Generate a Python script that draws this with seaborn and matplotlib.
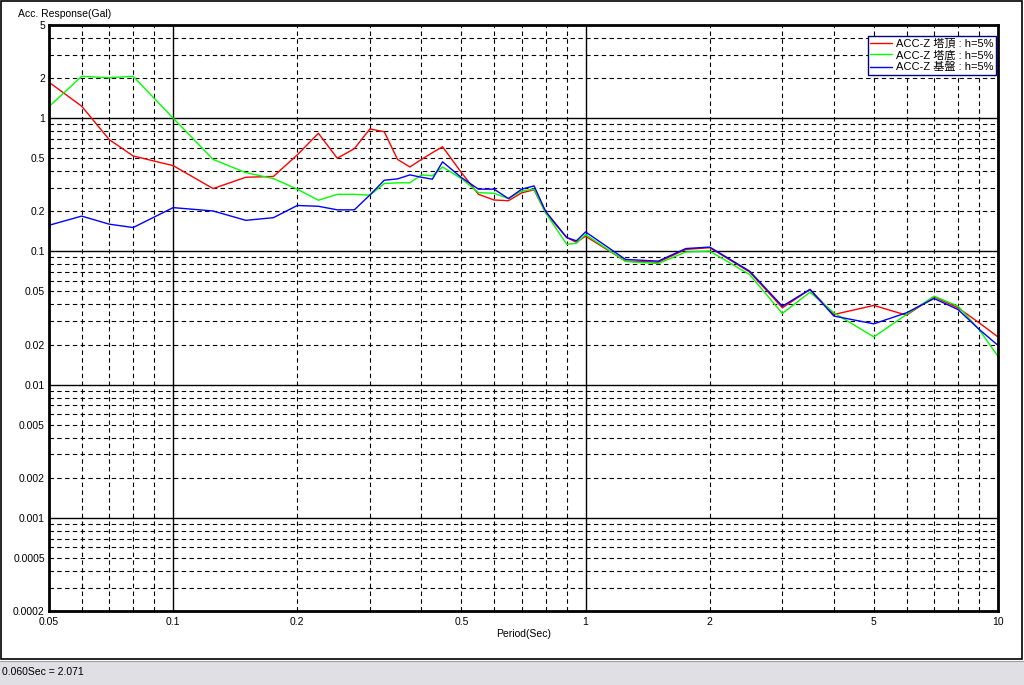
import matplotlib
matplotlib.use("Agg")
import numpy as np
import pandas as pd
import matplotlib.pyplot as plt
import seaborn as sns
from matplotlib.patches import Rectangle
from matplotlib.lines import Line2D


# =========================
# DATA
# =========================
PERIODS = [0.05, 0.06, 0.07, 0.08, 0.1, 0.125, 0.15, 0.175, 0.2, 0.225,
           0.25, 0.275, 0.3, 0.325, 0.35, 0.375, 0.4, 0.425, 0.45, 0.5,
           0.55, 0.6, 0.65, 0.7, 0.75, 0.8, 0.9, 0.95, 1.0, 1.25,
           1.5, 1.75, 2.0, 2.5, 3.0, 3.5, 4.0, 5.0, 6.0, 7.0,
           8.0, 9.0, 10.0]

ACC_TOP = [1.86, 1.23, 0.69, 0.52, 0.44, 0.296, 0.36, 0.365, 0.53, 0.77,
           0.50, 0.59, 0.83, 0.79, 0.49, 0.43, 0.49, 0.55, 0.61, 0.39,
           0.268, 0.243, 0.24, 0.275, 0.29, 0.195, 0.127, 0.117, 0.130, 0.0845,
           0.083, 0.1035, 0.1066, 0.070, 0.0377, 0.0518, 0.0336, 0.0393, 0.0332, 0.0456,
           0.0377, 0.0291, 0.0228]

ACC_BOTTOM = [1.22, 2.06, 2.01, 2.06, 1.0, 0.49, 0.39, 0.352, 0.293, 0.242,
              0.268, 0.268, 0.264, 0.323, 0.327, 0.327, 0.375, 0.369, 0.43, 0.352,
              0.276, 0.273, 0.249, 0.284, 0.293, 0.195, 0.113, 0.115, 0.134, 0.084,
              0.081, 0.099, 0.1005, 0.067, 0.0342, 0.0494, 0.0346, 0.0228, 0.0336, 0.0461,
              0.0388, 0.0259, 0.0163]

ACC_GROUND = [0.157, 0.184, 0.160, 0.151, 0.213, 0.201, 0.171, 0.179, 0.221, 0.218,
              0.205, 0.205, 0.265, 0.342, 0.35, 0.375, 0.36, 0.348, 0.47, 0.358,
              0.293, 0.293, 0.249, 0.293, 0.31, 0.20, 0.127, 0.12, 0.14, 0.087,
              0.0845, 0.105, 0.1077, 0.071, 0.0388, 0.0518, 0.0327, 0.0286, 0.0346, 0.0443,
              0.0366, 0.026, 0.0197]

SERIES_NAMES = ["ACC-Z 塔頂 : h=5%", "ACC-Z 塔底 : h=5%", "ACC-Z 基盤 : h=5%"]
SERIES_COLORS = ["#ff0000", "#00ff00", "#0000ff"]

X_TICKS = [0.05, 0.1, 0.2, 0.5, 1, 2, 5, 10]
X_TICK_LABELS = ["0.05", "0.1", "0.2", "0.5", "1", "2", "5", "10"]
Y_TICKS = [0.0002, 0.0005, 0.001, 0.002, 0.005, 0.01, 0.02, 0.05,
           0.1, 0.2, 0.5, 1, 2, 5]
Y_TICK_LABELS = ["0.0002", "0.0005", "0.001", "0.002", "0.005", "0.01", "0.02",
                 "0.05", "0.1", "0.2", "0.5", "1", "2", "5"]

X_LABEL = "Period(Sec)"
Y_LABEL = "Acc. Response(Gal)"
STATUS_TEXT = "0.060Sec = 2.071"


# =========================
# SETTINGS
# =========================
sns.set_style("white")
FONTS = ["Liberation Sans", "Noto Sans CJK JP", "DejaVu Sans"]
plt.rcParams["font.family"] = FONTS
plt.rcParams["font.size"] = 7.5
plt.rcParams["text.color"] = "black"
plt.rcParams["axes.labelcolor"] = "black"
plt.rcParams["xtick.color"] = "black"
plt.rcParams["ytick.color"] = "black"

W, H = 1024, 685
fig = plt.figure(figsize=(W / 100, H / 100), dpi=100)
fig.patch.set_facecolor("white")

# plot area in pixel coordinates of the reference
L, R, T, B = 49, 998, 25, 611
ax = fig.add_axes([L / W, 1 - B / H, (R - L) / W, (B - T) / H])
ax.set_xscale("log")
ax.set_yscale("log")
ax.set_xlim(0.05, 10)
ax.set_ylim(0.0002, 5)

# =========================
# GRID (solid at decades, dashed elsewhere)
# =========================
dash = (0, (4, 3))
for dec in [0.01, 0.1, 1]:
    for k in range(1, 10):
        v = dec * k
        if v <= 0.05 or v >= 10:
            continue
        if k == 1:
            ax.axvline(v, color="black", lw=1.0, zorder=1)
        else:
            ax.axvline(v, color="black", lw=0.8, ls=dash, zorder=1)
for dec in [0.0001, 0.001, 0.01, 0.1, 1]:
    for k in range(1, 10):
        v = dec * k
        if v <= 0.0002 or v >= 5:
            continue
        if k == 1:
            ax.axhline(v, color="black", lw=1.0, zorder=1)
        else:
            ax.axhline(v, color="black", lw=0.8, ls=dash, zorder=1)

# =========================
# CURVES
# =========================
frames = []
for name, vals in zip(SERIES_NAMES, [ACC_TOP, ACC_BOTTOM, ACC_GROUND]):
    frames.append(pd.DataFrame({"period": PERIODS, "response": vals, "series": name}))
df = pd.concat(frames, ignore_index=True)

sns.lineplot(data=df, x="period", y="response", hue="series",
             palette=SERIES_COLORS, estimator=None, sort=True,
             linewidth=1.0, ax=ax, zorder=3, legend=False)

# =========================
# AXES STYLE
# =========================
for sp in ax.spines.values():
    sp.set_visible(True)
    sp.set_color("black")
    sp.set_linewidth(2.0)
    sp.set_zorder(5)

ax.xaxis.set_major_locator(matplotlib.ticker.FixedLocator(X_TICKS))
ax.xaxis.set_major_formatter(matplotlib.ticker.FixedFormatter(X_TICK_LABELS))
ax.xaxis.set_minor_locator(matplotlib.ticker.NullLocator())
ax.yaxis.set_major_locator(matplotlib.ticker.FixedLocator(Y_TICKS))
ax.yaxis.set_major_formatter(matplotlib.ticker.FixedFormatter(Y_TICK_LABELS))
ax.yaxis.set_minor_locator(matplotlib.ticker.NullLocator())
ax.tick_params(axis="both", which="both", length=0, labelsize=7.5,
               colors="black", labelcolor="black")
ax.tick_params(axis="x", pad=4)
ax.tick_params(axis="y", pad=3)
ax.grid(False)

ax.set_xlabel(X_LABEL, fontsize=7.5, labelpad=2, color="black")
ax.set_ylabel("")
fig.text(18 / W, 1 - 14 / H, Y_LABEL, fontsize=7.5, ha="left", va="center",
         color="black")

# =========================
# LEGEND
# =========================
handles = [Line2D([0], [0], color=c, lw=1.0) for c in SERIES_COLORS]
leg = ax.legend(handles, SERIES_NAMES, loc="upper right",
                bbox_to_anchor=(1 - 2 / (R - L), 1 - 11 / (B - T)),
                fontsize=8.0, frameon=True, fancybox=False, framealpha=1,
                borderpad=0.2, labelspacing=0.15, handlelength=2.0,
                handletextpad=0.35, borderaxespad=0)
leg.get_frame().set_edgecolor("#000080")
leg.get_frame().set_linewidth(1.0)
for t in leg.get_texts():
    t.set_color("black")
leg.set_zorder(10)

# =========================
# WINDOW FRAME AND STATUS BAR
# =========================
fig.patches.append(Rectangle((0.5 / W, 1 - 659 / H), 1021 / W, 658.5 / H,
                             transform=fig.transFigure, fill=False,
                             edgecolor="black", lw=1.2))
fig.patches.append(Rectangle((0, 0), 1, 24 / H, transform=fig.transFigure,
                             facecolor="#e0dfe3", edgecolor="none"))
fig.add_artist(Line2D([0, 1], [1 - 660.5 / H] * 2, transform=fig.transFigure,
                      color="#a0a0a0", lw=0.8))
fig.text(2 / W, 1 - 672 / H, STATUS_TEXT, fontsize=7.5, ha="left", va="center",
         color="black")

fig.savefig("out.png", dpi=100)
